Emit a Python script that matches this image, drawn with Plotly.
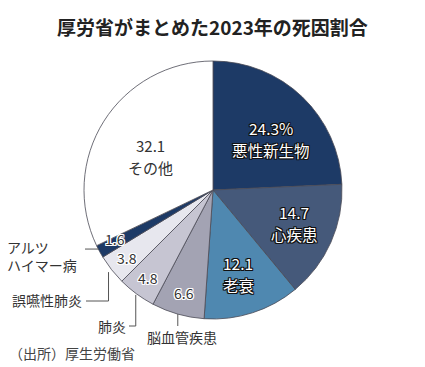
import math
import plotly.graph_objects as go

# ---- data ----
causes = ["悪性新生物", "心疾患", "老衰", "脳血管疾患", "肺炎", "誤嚥性肺炎", "アルツハイマー病", "その他"]
shares = [24.3, 14.7, 12.1, 6.6, 4.8, 3.8, 1.6, 32.1]
value_labels = ["24.3%", "14.7", "12.1", "6.6", "4.8", "3.8", "1.6", "32.1"]
colors = ["#1d3a66", "#45597a", "#4f88b0", "#a3a3b3", "#c6c5d2", "#e7e7ee", "#1d3a66", "#ffffff"]

W, H = 425, 367
CX, CY, R = 213, 190, 129
FONT = "Noto Sans CJK JP, Noto Sans, sans-serif"

fig = go.Figure(go.Pie(
    labels=causes, values=shares, sort=False, direction="clockwise", rotation=0,
    marker=dict(colors=colors, line=dict(color="#4a4a55", width=0.8)),
    textinfo="none", hoverinfo="label+value", showlegend=False,
    domain=dict(x=[(CX - R) / W, (CX + R) / W], y=[(H - CY - R) / H, (H - CY + R) / H]),
))

def px(x, y):
    return x / W, 1 - y / H

total = sum(shares)
mids = []
acc = 0
for v in shares:
    mids.append((acc + v / 2) / total * 360)
    acc += v

def polar(i, rf, dtheta=0):
    t = math.radians(mids[i] + dtheta)
    return CX + rf * R * math.sin(t), CY - rf * R * math.cos(t)

white_outline = ("-1px -1px 0 #111, 1px -1px 0 #111, -1px 1px 0 #111, 1px 1px 0 #111, "
                 "0 1px 0 #111, 0 -1px 0 #111, 1px 0 0 #111, -1px 0 0 #111")
dark_outline = ("-1px -1px 0 #fff, 1px -1px 0 #fff, -1px 1px 0 #fff, 1px 1px 0 #fff, "
                "0 1px 0 #fff, 0 -1px 0 #fff, 1px 0 0 #fff, -1px 0 0 #fff")

ann = []
def add_text(x, y, text, font, anchor="center"):
    xx, yy = px(x, y)
    ann.append(dict(x=xx, y=yy, xref="paper", yref="paper", text=text, showarrow=False,
                    font=font, xanchor=anchor, yanchor="middle", align="left", borderpad=0))

# inside labels for large slices (value + name)
inner = {0: (0.6, 5, "white"), 1: (0.68, -2, "white"), 2: (0.68, 1, "white"), 7: (0.55, -4, "dark")}
for i, (rf, dt, style) in inner.items():
    x, y = polar(i, rf, dt)
    if style == "white":
        f = dict(family=FONT, size=15.5, color="white", shadow=white_outline)
    else:
        f = dict(family=FONT, size=15, color="#333333")
    add_text(x, y - 11, value_labels[i], f)
    add_text(x, y + 11, causes[i], f)

# small slices: value only, near rim
for i in [3, 4, 5, 6]:
    x, y = polar(i, 0.83 if i == 3 else 0.85, 2 if i == 6 else 0)
    add_text(x, y, value_labels[i], dict(family=FONT, size=14, color="#333333", shadow=dark_outline))

# outside name labels
out_font = dict(family=FONT, size=14, color="#333333")
add_text(6, 247, "アルツ", out_font, "left")
add_text(6, 265, "ハイマー病", out_font, "left")
add_text(83, 300, causes[5], out_font, "right")
add_text(127, 326, causes[4], out_font, "right")
add_text(146, 337, causes[3], out_font, "left")

# title & source
add_text(212, 26, "<b>厚労省がまとめた2023年の死因割合</b>", dict(family=FONT, size=19, color="#222222"))
add_text(8, 353, "（出所）厚生労働省", dict(family=FONT, size=14, color="#444444"), "left")

# leader lines
shapes = []
def seg(x0, y0, x1, y1):
    a, b = px(x0, y0)
    c, d = px(x1, y1)
    shapes.append(dict(type="line", xref="paper", yref="paper", x0=a, y0=b, x1=c, y1=d,
                       line=dict(color="#555555", width=1)))

ex, ey = polar(6, 1.01)
seg(ex, ey - 3, 85, ey - 3)
ex, ey = polar(5, 1.03)
seg(ex, ey, ex, 301); seg(ex, 301, 86, 301)
ex, ey = polar(4, 1.01)
seg(ex, ey, ex, 326); seg(ex, 326, 129, 326)
ex, ey = polar(3, 1.0)
seg(ex, ey, ex, 326)

fig.update_layout(width=W, height=H, margin=dict(l=0, r=0, t=0, b=0),
                  paper_bgcolor="white", plot_bgcolor="white",
                  annotations=ann, shapes=shapes)
fig.write_html("out.html", config={"displayModeBar": False},
               post_script="document.body.style.margin='0';")
